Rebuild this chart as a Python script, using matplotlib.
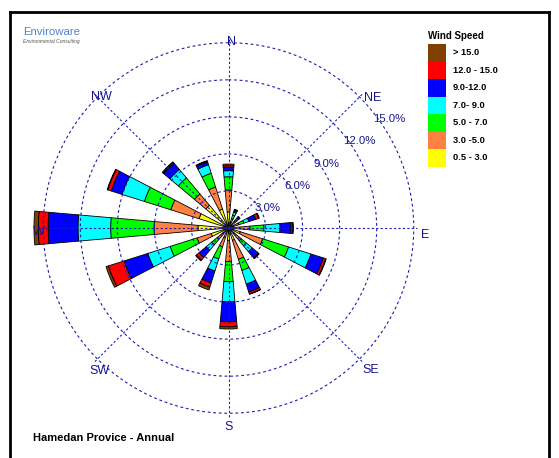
import numpy as np
import matplotlib.pyplot as plt

# directions (clockwise from north) and wind speed classes
directions = ['N', 'NNE', 'NE', 'ENE', 'E', 'ESE', 'SE', 'SSE',
              'S', 'SSW', 'SW', 'WSW', 'W', 'WNW', 'NW', 'NNW']
speed_labels = ['0.5 - 3.0', '3.0 -5.0', '5.0 - 7.0', '7.0- 9.0',
                '9.0-12.0', '12.0 - 15.0', '> 15.0']
speed_colors = ['#ffff00', '#ff8040', '#00ff00', '#00ffff',
                '#0000ff', '#ff0000', '#804000']

# frequency (%) per class, one list per speed class, in direction order
f_05_3 = [1.30, 0.50, 0.40, 0.40, 0.93, 1.00, 0.60, 1.05, 1.00, 0.80, 0.60, 1.47, 2.47, 2.50, 2.40, 1.60]
f_3_5 = [1.78, 0.30, 0.30, 0.46, 0.81, 1.90, 0.75, 1.61, 1.73, 0.80, 0.59, 1.20, 3.56, 2.40, 1.20, 1.88]
f_5_7 = [1.07, 0.30, 0.20, 0.44, 1.13, 2.20, 0.55, 0.94, 1.62, 1.03, 0.59, 2.28, 3.51, 2.24, 1.70, 1.17]
f_7_9 = [0.49, 0.25, 0.15, 0.43, 1.30, 1.90, 0.60, 1.16, 1.62, 1.02, 0.58, 1.90, 2.65, 1.90, 0.90, 0.72]
f_9_12 = [0.27, 0.15, 0.10, 0.57, 0.89, 1.05, 0.65, 0.67, 1.63, 1.02, 0.76, 2.01, 2.41, 0.91, 0.65, 0.23]
f_12_15 = [0.13, 0.05, 0.05, 0.25, 0.14, 0.20, 0.05, 0.17, 0.40, 0.35, 0.28, 1.34, 0.80, 0.30, 0.10, 0.08]
f_15 = [0.14, 0.05, 0.02, 0.07, 0.05, 0.05, 0.05, 0.03, 0.18, 0.24, 0.08, 0.20, 0.35, 0.05, 0.05, 0.04]
freqs = [f_05_3, f_3_5, f_5_7, f_7_9, f_9_12, f_12_15, f_15]

rings = [3, 6, 9, 12, 15]
ring_labels = ['3.0%', '6.0%', '9.0%', '12.0%', '15.0%']
compass = ['N', 'NE', 'E', 'SE', 'S', 'SW', 'W', 'NW']

W, H = 559, 458
fig = plt.figure(figsize=(W / 100, H / 100), dpi=100)
plt.rcParams['font.family'] = ['Liberation Sans', 'DejaVu Sans']

# polar axes: centre at (228.5, 228) px, 12.35 px per percent
rmax = 16.0
rad_px = rmax * 12.35
cx, cy = 228.5, 228
ax = fig.add_axes([(cx - rad_px) / W, 1 - (cy + rad_px) / H,
                   2 * rad_px / W, 2 * rad_px / H], projection='polar')
ax.set_theta_zero_location('N')
ax.set_theta_direction(-1)
ax.set_ylim(0, rmax)
ax.set_axis_off()

theta = np.deg2rad(np.arange(len(directions)) * 22.5)
width = np.deg2rad(10)
bottom = np.zeros(len(directions))
for vals, col in zip(freqs, speed_colors):
    vals = np.array(vals)
    ax.bar(theta, vals, width=width, bottom=bottom, color=col,
           edgecolor='black', linewidth=0.6, zorder=2)
    bottom = bottom + vals

# dashed grid over the bars
gcol = '#1c1cb4'
tt = np.linspace(0, 2 * np.pi, 400)
for r in rings:
    ax.plot(tt, np.full_like(tt, r), color=gcol, lw=0.8,
            ls=(0, (2.5, 2.5)), zorder=3)
for i in range(8):
    a = np.deg2rad(i * 45)
    ax.plot([a, a], [0, 15.3], color=gcol, lw=0.8, ls=(0, (2, 2)), zorder=3)

for r, lab in zip(rings, ring_labels):
    ax.text(np.deg2rad(53), r - 0.35, lab, color='#14148c', fontsize=8.2,
            ha='left', va='center', zorder=4)

# compass label placement (bearing, radius)
label_pos = [(1, 15.05), (47.8, 15.7), (92, 15.9), (135, 16.3),
             (180, 16.1), (222, 15.6), (268.8, 15.4), (315.8, 14.8)]
for lab, (b, r) in zip(compass, label_pos):
    ax.text(np.deg2rad(b), r, lab, color='#14148c', fontsize=9,
            ha='center', va='center', zorder=4, clip_on=False)

# frame
fx = lambda x: x / W
fy = lambda y: 1 - y / H
fig.add_artist(plt.Line2D([fx(10), fx(10)], [fy(12), fy(460)], color='black', lw=2))
fig.add_artist(plt.Line2D([fx(10), fx(549)], [fy(12), fy(12)], color='black', lw=2))
fig.add_artist(plt.Line2D([fx(549), fx(549)], [fy(12), fy(460)], color='black', lw=2))

# logo
fig.text(fx(23), fy(32), 'Enviroware', color='#4f86c6', fontsize=8.2,
         ha='left', va='center')
fig.text(fx(23), fy(41), 'Environmental Consulting', color='#555555',
         fontsize=3.6, style='italic', ha='left', va='center')

# legend
fig.text(fx(428), fy(36), 'Wind Speed', fontsize=7, fontweight='bold',
         ha='left', va='center')
box_h = 17.5
for k, (lab, col) in enumerate(zip(speed_labels[::-1], speed_colors[::-1])):
    y0 = 44 + k * box_h
    fig.add_artist(plt.Rectangle((fx(428), fy(y0 + box_h)), 18 / W, box_h / H,
                                 facecolor=col, edgecolor='none'))
    fig.text(fx(453), fy(y0 + box_h / 2), lab, fontsize=6.7,
             fontweight='bold', ha='left', va='center')

fig.text(fx(33), fy(438), 'Hamedan Provice - Annual', fontsize=8,
         fontweight='bold', ha='left', va='center')

fig.savefig('out.png', dpi=100)
